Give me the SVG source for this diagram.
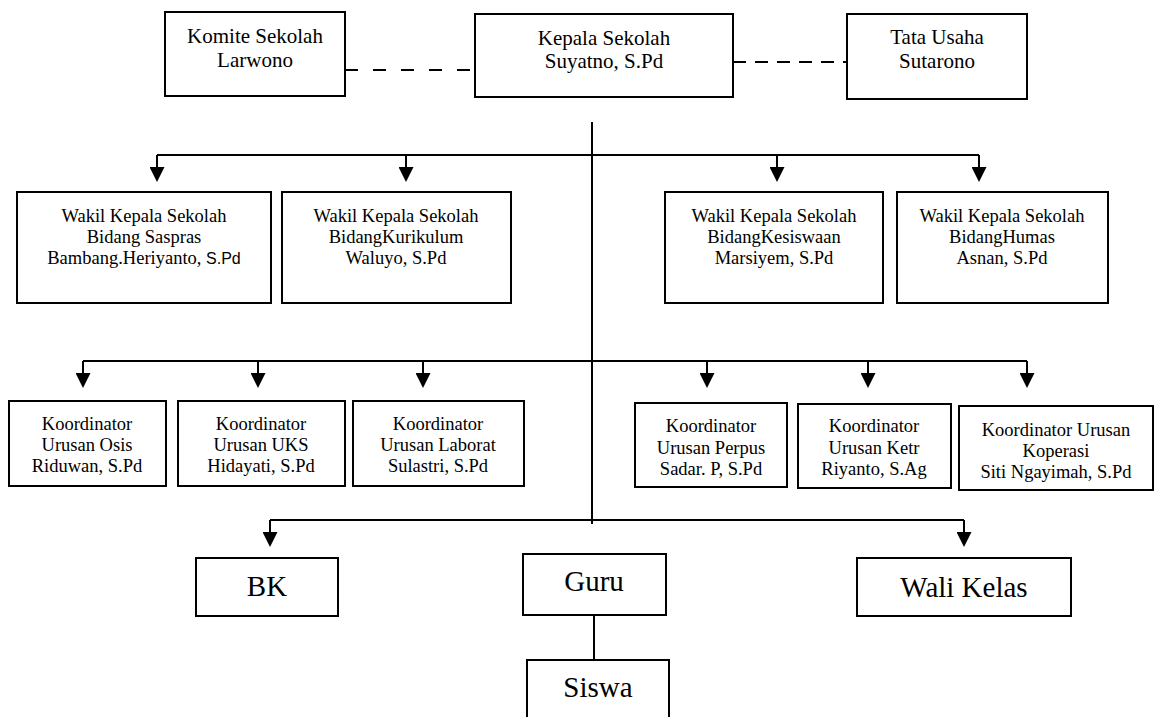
<svg xmlns="http://www.w3.org/2000/svg" width="1160" height="717" viewBox="0 0 1160 717">
<style>
.box{fill:#fff;stroke:#000;stroke-width:2}
.ln{fill:none;stroke:#000;stroke-width:2}
.dash{fill:none;stroke:#000;stroke-width:2}
text{font-family:"Liberation Serif","Times New Roman",serif;fill:#000;text-anchor:middle}
.t21{font-size:21px}
.t18{font-size:18.5px}
.t29{font-size:29px}
.sans{font-family:"Liberation Sans",Arial,sans-serif;font-size:16px}
</style>
<defs>
<marker id="arr" markerUnits="userSpaceOnUse" markerWidth="15" markerHeight="15" viewBox="0 0 15 15" refX="0" refY="7.5" orient="auto">
<path d="M0,0 L15,7.5 L0,15 z" fill="#000"/>
</marker>
</defs>
<rect width="1160" height="717" fill="#fff"/>
<g id="connectors">
<path class="ln" d="M592,122 V524"/>
<path class="dash" d="M345,70 H475" stroke-dasharray="13 15"/>
<path class="dash" d="M733,62 H847" stroke-dasharray="13 9"/>
<path class="ln" d="M157,155 H979"/>
<path class="ln" d="M157,155 V167" marker-end="url(#arr)"/>
<path class="ln" d="M406,155 V167" marker-end="url(#arr)"/>
<path class="ln" d="M777,155 V167" marker-end="url(#arr)"/>
<path class="ln" d="M979,155 V167" marker-end="url(#arr)"/>
<path class="ln" d="M83,361 H1027"/>
<path class="ln" d="M83,361 V373" marker-end="url(#arr)"/>
<path class="ln" d="M258,361 V373" marker-end="url(#arr)"/>
<path class="ln" d="M423,361 V373" marker-end="url(#arr)"/>
<path class="ln" d="M707,361 V373" marker-end="url(#arr)"/>
<path class="ln" d="M868,361 V373" marker-end="url(#arr)"/>
<path class="ln" d="M1027,361 V373" marker-end="url(#arr)"/>
<path class="ln" d="M270,520 H964"/>
<path class="ln" d="M270,520 V532" marker-end="url(#arr)"/>
<path class="ln" d="M964,520 V532" marker-end="url(#arr)"/>
<path class="ln" d="M594,615 V660" stroke-width="1.6"/>
</g>
<g id="komite">
<rect class="box" x="165" y="12" width="180" height="84"/>
<text class="t21" x="255" y="43">Komite Sekolah</text>
<text class="t21" x="255" y="67">Larwono</text>
</g>
<g id="kepala">
<rect class="box" x="475" y="14" width="258" height="83"/>
<text class="t21" x="604" y="45">Kepala Sekolah</text>
<text class="t21" x="604" y="68">Suyatno, S.Pd</text>
</g>
<g id="tatausaha">
<rect class="box" x="847" y="14" width="180" height="85"/>
<text class="t21" x="937" y="44">Tata Usaha</text>
<text class="t21" x="937" y="68">Sutarono</text>
</g>
<g id="wakasek-saspras">
<rect class="box" x="17" y="192" width="254" height="111"/>
<text class="t18" x="144" y="222">Wakil Kepala Sekolah</text>
<text class="t18" x="144" y="243">Bidang Saspras</text>
<text class="t18" x="144" y="264">Bambang.Heriyanto, <tspan class="sans">S.Pd</tspan></text>
</g>
<g id="wakasek-kurikulum">
<rect class="box" x="282" y="192" width="229" height="111"/>
<text class="t18" x="396" y="222">Wakil Kepala Sekolah</text>
<text class="t18" x="396" y="243">BidangKurikulum</text>
<text class="t18" x="396" y="264">Waluyo, S.Pd</text>
</g>
<g id="wakasek-kesiswaan">
<rect class="box" x="665" y="192" width="218" height="111"/>
<text class="t18" x="774" y="222">Wakil Kepala Sekolah</text>
<text class="t18" x="774" y="243">BidangKesiswaan</text>
<text class="t18" x="774" y="264">Marsiyem, S.Pd</text>
</g>
<g id="wakasek-humas">
<rect class="box" x="897" y="192" width="211" height="111"/>
<text class="t18" x="1002" y="222">Wakil Kepala Sekolah</text>
<text class="t18" x="1002" y="243">BidangHumas</text>
<text class="t18" x="1002" y="264">Asnan, S.Pd</text>
</g>
<g id="koord-osis">
<rect class="box" x="9" y="401" width="157" height="85"/>
<text class="t18" x="87" y="430">Koordinator</text>
<text class="t18" x="87" y="451">Urusan Osis</text>
<text class="t18" x="87" y="472">Riduwan, S.Pd</text>
</g>
<g id="koord-uks">
<rect class="box" x="178" y="401" width="167" height="85"/>
<text class="t18" x="261" y="430">Koordinator</text>
<text class="t18" x="261" y="451">Urusan UKS</text>
<text class="t18" x="261" y="472">Hidayati, S.Pd</text>
</g>
<g id="koord-laborat">
<rect class="box" x="353" y="401" width="171" height="85"/>
<text class="t18" x="438" y="430">Koordinator</text>
<text class="t18" x="438" y="451">Urusan Laborat</text>
<text class="t18" x="438" y="472">Sulastri, S.Pd</text>
</g>
<g id="koord-perpus">
<rect class="box" x="635" y="403" width="152" height="84"/>
<text class="t18" x="711" y="432">Koordinator</text>
<text class="t18" x="711" y="454">Urusan Perpus</text>
<text class="t18" x="711" y="475">Sadar. P, S.Pd</text>
</g>
<g id="koord-ketr">
<rect class="box" x="798" y="404" width="153" height="84"/>
<text class="t18" x="874" y="432">Koordinator</text>
<text class="t18" x="874" y="454">Urusan Ketr</text>
<text class="t18" x="874" y="475">Riyanto, S.Ag</text>
</g>
<g id="koord-koperasi">
<rect class="box" x="959" y="406" width="194" height="84"/>
<text class="t18" x="1056" y="436">Koordinator Urusan</text>
<text class="t18" x="1056" y="457">Koperasi</text>
<text class="t18" x="1056" y="478">Siti Ngayimah, S.Pd</text>
</g>
<g id="bk">
<rect class="box" x="196" y="558" width="142" height="58"/>
<text class="t29" x="267" y="596">BK</text>
</g>
<g id="guru">
<rect class="box" x="523" y="554" width="143" height="61"/>
<text class="t29" x="594" y="591">Guru</text>
</g>
<g id="walikelas">
<rect class="box" x="857" y="558" width="214" height="58"/>
<text class="t29" x="964" y="597">Wali Kelas</text>
</g>
<g id="siswa">
<rect class="box" x="527" y="660" width="142" height="70"/>
<text class="t29" x="598" y="697">Siswa</text>
</g>
</svg>
